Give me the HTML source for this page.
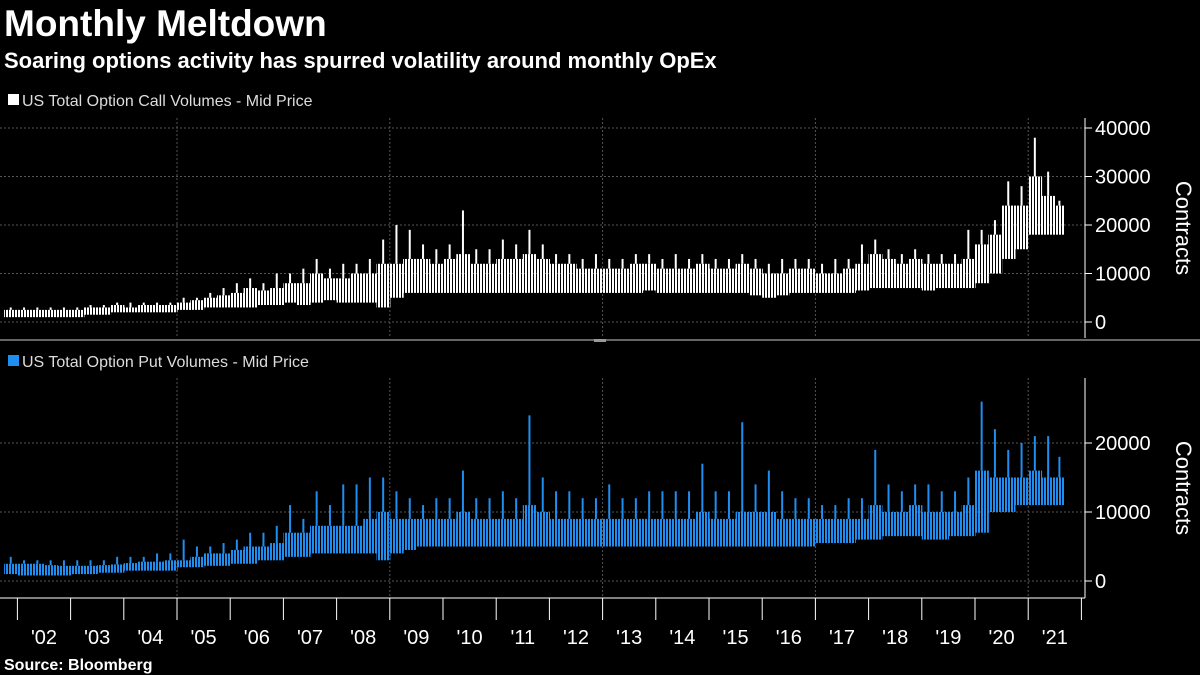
<!DOCTYPE html>
<html><head><meta charset="utf-8"><style>
body{margin:0;background:#000;}
svg{display:block;font-family:"Liberation Sans",sans-serif;}
</style></head><body>
<svg id="chart" width="1200" height="675" viewBox="0 0 1200 675" xmlns="http://www.w3.org/2000/svg">
<defs>
<pattern id="pw" width="3" height="4" patternUnits="userSpaceOnUse"><rect width="2" height="4" fill="#fff"/></pattern>
<pattern id="pb" width="3" height="4" patternUnits="userSpaceOnUse"><rect width="2" height="4" fill="#1f8ef1"/></pattern>
</defs>
<rect width="1200" height="675" fill="#000"/>
<text x="4" y="36" fill="#fff" font-size="37" font-weight="bold">Monthly Meltdown</text>
<text x="4" y="68" fill="#fff" font-size="22" font-weight="bold">Soaring options activity has spurred volatility around monthly OpEx</text>
<rect x="8" y="94" width="11" height="11" fill="#fff"/>
<text x="22" y="106" fill="#ddd" font-size="16">US Total Option Call Volumes - Mid Price</text>
<rect x="8" y="355" width="11" height="11" fill="#1f8ef1"/>
<text x="22" y="367" fill="#ddd" font-size="16">US Total Option Put Volumes - Mid Price</text>
<line x1="0" y1="340" x2="1200" y2="340" stroke="#666" stroke-width="2"/>
<rect x="594" y="339" width="12" height="3" fill="#999"/>
<g id="grid"></g><g id="marks"></g><g id="axes"></g>
<text x="4" y="670" fill="#fff" font-size="16" font-weight="bold">Source: Bloomberg</text>
</svg>
<script>
const years=['02','03','04','05','06','07','08','09','10','11','12','13','14','15','16','17','18','19','20','21'];
const callLow=[1, 1,1,1,1, 1,1.5,1.5,2, 2,2,2,2, 2.5,2.5,3,3, 3,3,3.5,3.5, 4,3.5,4,4.5, 4,4,4,3, 5,6,6,6, 6,6,6,6, 6,6,6,6, 6,6,6,6, 6,6,6,6.5, 6,6,6,6, 6,6,6,5.5, 5,5.5,6,6, 6,6,6,6.5, 7,7,7,7, 6.5,7,7,7, 8,10,13,15, 18,18,18];
const callHigh=[2.5, 2.5,2.5,2.5,2.5, 2.5,3,3,3.5, 3,3.5,3.5,3.5, 4,4.5,5,5.5, 6,7,6.5,7, 8,8,10,9, 9,10,10,12, 12,13,13,12, 13,14,12,12, 13,13,14,13, 12,12,11,11, 11,11,12,12, 11,11,11,12, 11,11,12,11, 10,10,11,11, 10,10,11,12, 14,13,12,13, 12,12,12,13, 16,18,24,24, 30,26,24];
const callPeak=[3, 3,3,3,3, 3,3.5,3.5,4, 4,4,4,4, 5,5,6,7, 8,9,8,10, 10,11,13,11, 12,12,13,17, 20,19,16,15, 16,23,15,15, 17,16,19,16, 14,14,13,14, 13,13,14,14, 13,14,13,14, 13,13,14,13, 12,13,13,13, 12,13,13,16, 17,15,14,15, 14,14,14,19, 19,21,29,28, 38,31,25];
const putLow=[1, 0.8,0.8,0.8,0.8, 1,1,1.2,1.2, 1.5,1.5,1.5,1.5, 2,2,2.2,2.2, 2.5,2.5,3,3, 3.5,3.5,4,4, 4,4,4,3, 4,4.5,5,5, 5,5,5,5, 5,5,5,5, 5,5,5,5, 5,5,5,5, 5,5,5,5, 5,5,5,5, 5,5,5,5, 5.5,5.5,5.5,6, 6,6.5,6.5,6.5, 6,6,6.5,6.5, 7,10,10,11, 11,11,11];
const putHigh=[2.5, 2.5,2.5,2.3,2.2, 2.2,2.2,2.3,2.4, 2.6,2.8,2.8,3, 3,3.5,4,4, 4.5,5,5,5.5, 7,7,8,8, 8,8,9,10, 9,9,9,9, 9,10,9,9, 9,9,11,10, 9,9,9,9, 9,9,9,9, 9,9,9,10, 9,9,10,10, 10,9,9,9, 9,9,9,9, 11,10,10,11, 10,10,10,11, 16,15,15,15, 16,15,15];
const putPeak=[3.5, 3,3,3,3, 3,3,3,3.5, 3.5,3.5,4,4, 6,5,5,5.5, 6,7,7,8, 11,9,13,11, 14,14,15,15, 13,12,11,12, 12,16,12,12, 13,12,24,15, 13,13,12,12, 14,12,12,13, 13,13,13,17, 13,13,23,14, 16,13,12,12, 11,11,12,12, 19,14,13,14, 14,13,13,15, 26,22,19,20, 21,21,18];
const callTicks=[0,10000,20000,30000,40000];
const putTicks=[0,10000,20000];
const NS='http://www.w3.org/2000/svg';
function X(t){return 177+(t-2005)*53.2;}
const callY=v=>322-v*0.00485;
const putY=v=>581-v*0.0069;
function el(tag,attrs,parent){const e=document.createElementNS(NS,tag);for(const k in attrs)e.setAttribute(k,attrs[k]);parent.appendChild(e);return e;}
const grid=document.getElementById('grid'),marks=document.getElementById('marks'),axes=document.getElementById('axes');
[2005,2009,2013,2017,2021].forEach(yr=>{
  const l=el('line',{x1:X(yr),x2:X(yr),y1:118,y2:338,stroke:'#555','stroke-dasharray':'2,2'},grid);
  
  
  const l2=el('line',{x1:X(yr),x2:X(yr),y1:378,y2:598,stroke:'#555','stroke-dasharray':'2,2'},grid);
  
  
});
function panel(low,high,peak,Y,ticks,color,pat,name,top,bottom){
  ticks.forEach(v=>{
    const g=el('line',{x1:0,x2:1085,y1:Y(v),y2:Y(v),stroke:'#555','stroke-dasharray':'2,2'},grid);
    
    
    const tk=el('line',{x1:1085,x2:1092,y1:Y(v),y2:Y(v),stroke:'#fff'},axes);
    
    
    const t=el('text',{x:1095,y:Y(v)+7,fill:'#fff','font-size':20},axes);
    t.textContent=v;
    
    
  });
  const ax=el('line',{x1:1085,x2:1085,y1:top,y2:bottom,stroke:'#fff'},axes);
  
  
  const yt=el('text',{transform:`translate(1176,${(top+bottom)/2}) rotate(90)`,fill:'#fff','font-size':22,'text-anchor':'middle'},axes);
  yt.textContent='Contracts';
  
  
  const n=Math.min(low.length,high.length,peak.length);
  for(let i=0;i<n;i++){
    const xa=X(2001.75+i*0.25), xb=Math.min(1064,X(2001.75+(i+1)*0.25));
    const lo=Y(low[i]*1000), hi=Y(high[i]*1000);
    const r=el('rect',{x:xa,y:hi,width:Math.max(1,xb-xa+0.6),height:Math.max(1,lo-hi),fill:pat},marks);
    
    
    const x=(xa+xb)/2;
    const s=el('line',{x1:x,x2:x,y1:hi,y2:Y(peak[i]*1000),stroke:color,'stroke-width':2},marks);
    
    
  }
}
panel(callLow,callHigh,callPeak,callY,callTicks,'#fff','url(#pw)','call',118,338);
panel(putLow,putHigh,putPeak,putY,putTicks,'#1f8ef1','url(#pb)','put',378,598);
const xa=el('line',{x1:0,x2:1085,y1:598,y2:598,stroke:'#fff'},axes);


years.forEach((y,i)=>{
  const yr=2002+i;
  const tk=el('line',{x1:X(yr),x2:X(yr),y1:598,y2:620,stroke:'#fff'},axes);
  
  
  const t=el('text',{x:X(yr+0.5),y:644,fill:'#fff','font-size':20,'text-anchor':'middle'},axes);
  t.textContent="'"+y;
  
  
});
const lt=el('line',{x1:X(2022),x2:X(2022),y1:598,y2:620,stroke:'#fff'},axes);


</script>
</body></html>
